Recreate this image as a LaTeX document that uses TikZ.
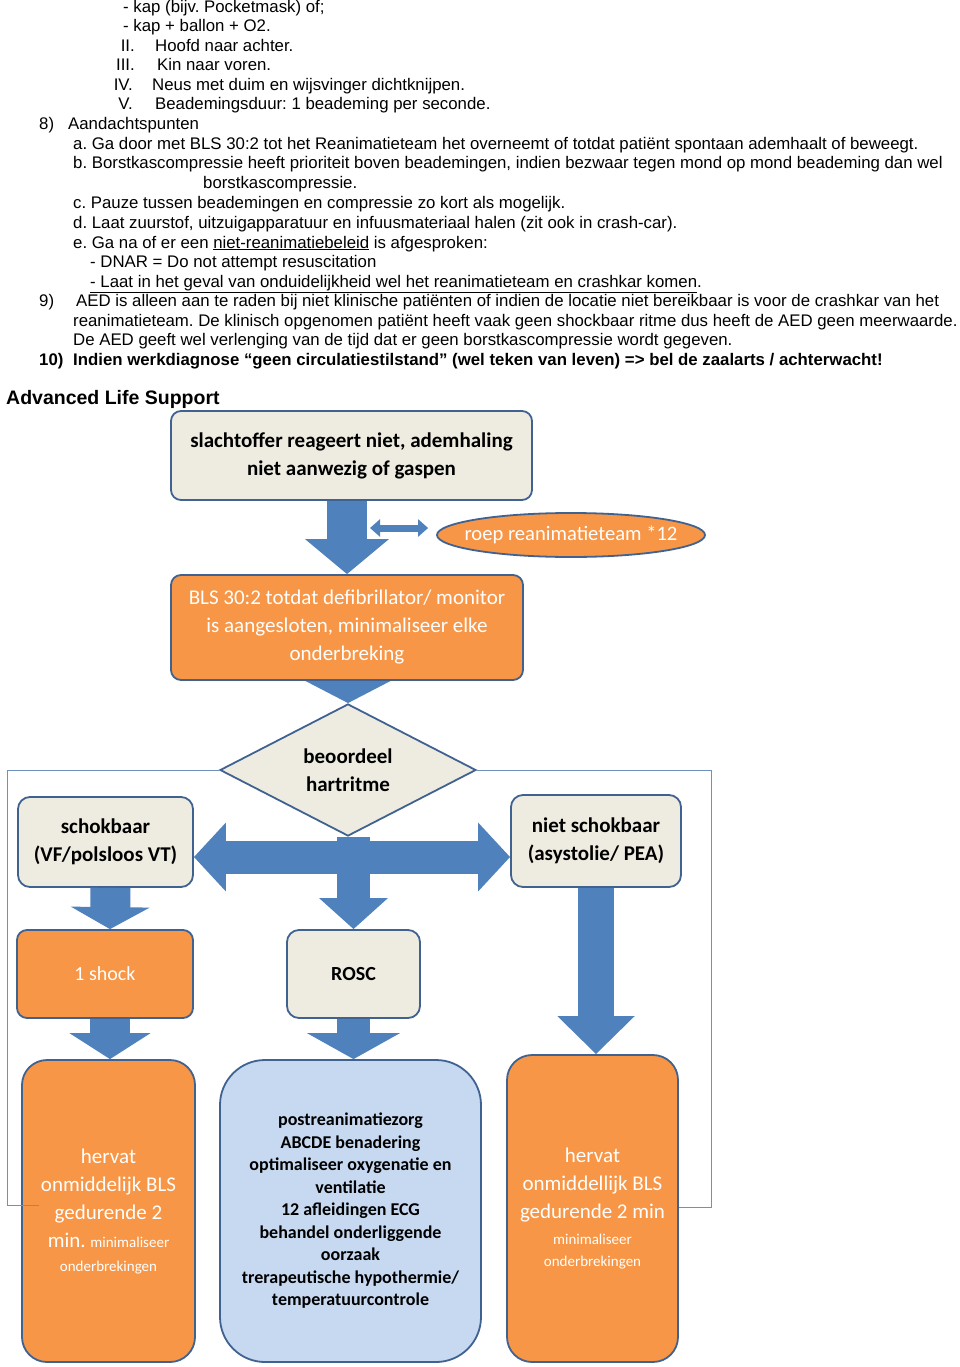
\documentclass[tikz,border=0pt]{standalone}
\usepackage{fontspec}
\setmainfont{Liberation Sans}
\newfontfamily\calfont{Carlito}
\usetikzlibrary{shapes.geometric,arrows.meta}
\frenchspacing

\definecolor{boxgray}{RGB}{238,236,225}
\definecolor{boxorange}{RGB}{247,150,70}
\definecolor{boxblue}{RGB}{198,217,241}
\definecolor{arrowblue}{RGB}{79,129,189}
\definecolor{boxedge}{RGB}{64,98,145}
\definecolor{loopblue}{RGB}{110,145,190}

\begin{document}
\begin{tikzpicture}[
    x=1pt, y=-1pt,
    txt/.style={
        anchor=base west,
        inner sep=0pt,
        font=\fontsize{16.8}{19.5}\selectfont
    },
    box/.style={
        draw=boxedge,
        line width=1.8pt,
        rounded corners=10pt,
        fill=boxgray,
        align=center,
        inner sep=2pt,
        font=\calfont\bfseries\fontsize{21}{28}\selectfont
    },
    obox/.style={
        box,
        fill=boxorange,
        text=white,
        font=\calfont\fontsize{21}{28}\selectfont
    },
    bigarrow/.style n args={3}{
        draw=arrowblue,
        line width=#1,
        -{Triangle[width=#2,length=#3]}
    },
    sidearrow/.style={
        draw=arrowblue,
        line width=7pt,
        {Triangle[width=17pt,length=10pt]}-{Triangle[width=17pt,length=10pt]}
    },
    loopline/.style={
        draw=loopblue,
        line width=1pt
    }
]
    \useasboundingbox (0,0) rectangle (960,1367);
    \fill[white] (0,0) rectangle (960,1367);

    % Text above the scheme
    \node[txt] (kapA) at (123,13) {- kap (bijv. Pocketmask) of;};
    \node[txt] (kapB) at (123,32) {- kap + ballon + O2.};
    \node[txt, anchor=base east] (romII) at (135,52) {II.};
    \node[txt] (hoofd) at (155,52) {Hoofd naar achter.};
    \node[txt, anchor=base east] (romIII) at (135,71) {III.};
    \node[txt] (kin) at (157,71) {Kin naar voren.};
    \node[txt, anchor=base east] (romIV) at (133,91) {IV.};
    \node[txt] (neus) at (152,91) {Neus met duim en wijsvinger dichtknijpen.};
    \node[txt, anchor=base east] (romV) at (133,110) {V.};
    \node[txt] (duur) at (155,110) {Beademingsduur: 1 beademing per seconde.};
    \node[txt] (num8) at (39,130) {8)};
    \node[txt] (aandacht) at (68,130) {Aandachtspunten};
    \node[txt] (itemA) at (73,150) {a. Ga door met BLS 30:2 tot het Reanimatieteam het overneemt of totdat patiënt spontaan ademhaalt of beweegt.};
    \node[txt] (itemB) at (73,169) {b. Borstkascompressie heeft prioriteit boven beademingen, indien bezwaar tegen mond op mond beademing dan wel};
    \node[txt] (itemBb) at (203,189) {borstkascompressie.};
    \node[txt] (itemC) at (73,208) {c. Pauze tussen beademingen en compressie zo kort als mogelijk.};
    \node[txt] (itemD) at (73,228) {d. Laat zuurstof, uitzuigapparatuur en infuusmateriaal halen (zit ook in crash-car).};
    \node[txt] (itemE) at (73,248) {e. Ga na of er een \underline{niet-reanimatiebeleid} is afgesproken:};
    \node[txt] (dnar) at (90,267) {- DNAR = Do not attempt resuscitation};
    \node[txt] (laat) at (90,287) {\underline{- Laat in het geval van onduidelijkheid wel het reanimatieteam en crashkar komen}.};
    \node[txt] (num9) at (39,306) {9)};
    \node[txt] (aedA) at (76,306) {AED is alleen aan te raden bij niet klinische patiënten of indien de locatie niet bereikbaar is voor de crashkar van het};
    \node[txt] (aedB) at (73,326) {reanimatieteam. De klinisch opgenomen patiënt heeft vaak geen shockbaar ritme dus heeft de AED geen meerwaarde.};
    \node[txt] (aedC) at (73,345) {De AED geeft wel verlenging van de tijd dat er geen borstkascompressie wordt gegeven.};
    \node[txt, font=\bfseries\fontsize{16.8}{19.5}\selectfont] (num10) at (39,365) {10)};
    \node[txt, font=\bfseries\fontsize{16.8}{19.5}\selectfont] (indien) at (73,365) {Indien werkdiagnose “geen circulatiestilstand” (wel teken van leven) => bel de zaalarts / achterwacht!};
    \node[txt, font=\bfseries\fontsize{19.5}{23}\selectfont] (als) at (6,404) {Advanced Life Support};

    % Scheme boxes
    \node[box, minimum width=361pt, minimum height=89pt] (start) at (351.5,455.5) {slachtoffer reageert niet, ademhaling\\niet aanwezig of gaspen};
    \node[ellipse, draw=boxedge, line width=1.8pt, fill=boxorange, text=white, inner sep=0pt,
          minimum width=268pt, minimum height=44pt, font=\calfont\fontsize{20.6}{24}\selectfont]
          (roep) at (571,535) {\makebox[0pt]{roep reanimatieteam *12}};
    \node[obox, minimum width=352pt, minimum height=105pt] (bls) at (347,627.5) {BLS 30:2 totdat defibrillator/ monitor\\is aangesloten, minimaliseer elke\\onderbreking};
    \node[diamond, draw=boxedge, line width=1.8pt, fill=boxgray, inner sep=0pt, align=center,
          minimum width=256pt, minimum height=120pt, font=\calfont\bfseries\fontsize{21}{28}\selectfont]
          (ritme) at (348,770) {beoordeel\\hartritme};
    \node[box, rounded corners=12pt, minimum width=175pt, minimum height=90pt] (schok) at (105.5,842) {schokbaar\\(VF/polsloos VT)};
    \node[box, rounded corners=12pt, minimum width=170pt, minimum height=92pt] (nietschok) at (596,841) {niet schokbaar\\(asystolie/ PEA)};
    \node[obox, minimum width=176pt, minimum height=88pt, font=\calfont\fontsize{20}{24}\selectfont] (shock) at (105,974) {1 shock};
    \node[box, rounded corners=12pt, minimum width=133pt, minimum height=88pt, font=\calfont\bfseries\fontsize{20}{24}\selectfont] (rosc) at (353.5,974) {ROSC};
    \node[obox, rounded corners=25pt, minimum width=173pt, minimum height=302pt] (hervatL) at (108.5,1211)
        {hervat\\onmiddelijk BLS\\gedurende 2\\min. {\fontsize{15}{20}\selectfont minimaliseer}\\[-4pt]{\fontsize{15}{20}\selectfont onderbrekingen}};
    \node[box, fill=boxblue, rounded corners=45pt, minimum width=261pt, minimum height=302pt,
          font=\calfont\bfseries\fontsize{18}{22.5}\selectfont] (post) at (350.5,1211)
        {postreanimatiezorg\\ABCDE benadering\\optimaliseer oxygenatie en\\ventilatie\\12 afleidingen ECG\\behandel onderliggende\\oorzaak\\trerapeutische hypothermie/\\temperatuurcontrole};
    \node[obox, rounded corners=25pt, minimum width=171pt, minimum height=307pt] (hervatR) at (592.5,1208.5)
        {hervat\\onmiddellijk BLS\\gedurende 2 min\\[-2pt]{\fontsize{15}{20}\selectfont minimaliseer}\\[-6pt]{\fontsize{15}{20}\selectfont onderbrekingen}};

    % Block arrows
    \draw[bigarrow={40pt}{82pt}{35pt}] (bls.north |- start.south) -- (bls.north);
    \coordinate (side) at (370,528);
    \draw[sidearrow, shorten >=8pt] (side) -- (side -| roep.west);
    \draw[bigarrow={40pt}{84pt}{22pt}] (ritme.north |- bls.south) -- (ritme.north);
    \coordinate (cross) at (350,857);
    \draw[bigarrow={33pt}{67pt}{31pt}] (rosc.north |- ritme.south) -- (rosc.north);
    \draw[draw=arrowblue, line width=33pt, {Triangle[width=67pt,length=32pt]}-{Triangle[width=67pt,length=32pt]}]
        (schok.east |- cross) -- (nietschok.west |- cross);
    \draw[bigarrow={40pt}{78pt}{22pt}] ([xshift=5pt]schok.south) -- ([xshift=5pt]shock.north);
    \draw[bigarrow={40pt}{80pt}{26pt}] ([xshift=5pt]shock.south) -- ([xshift=5pt]shock.south |- hervatL.north);
    \draw[bigarrow={33pt}{92pt}{26pt}] (rosc.south) -- (rosc.south |- post.north);
    \draw[bigarrow={36pt}{75pt}{38pt}] (nietschok.south) -- (nietschok.south |- hervatR.north);

    % Loop back lines
    \coordinate (loopL) at (7,1205);
    \coordinate (loopR) at (711,1207);
    \draw[loopline] (ritme.west) -| (loopL) -- ([xshift=18pt]hervatL.west |- loopL);
    \draw[loopline] (ritme.east) -| (loopR) -- (hervatR.east |- loopR);
\end{tikzpicture}
\end{document}
